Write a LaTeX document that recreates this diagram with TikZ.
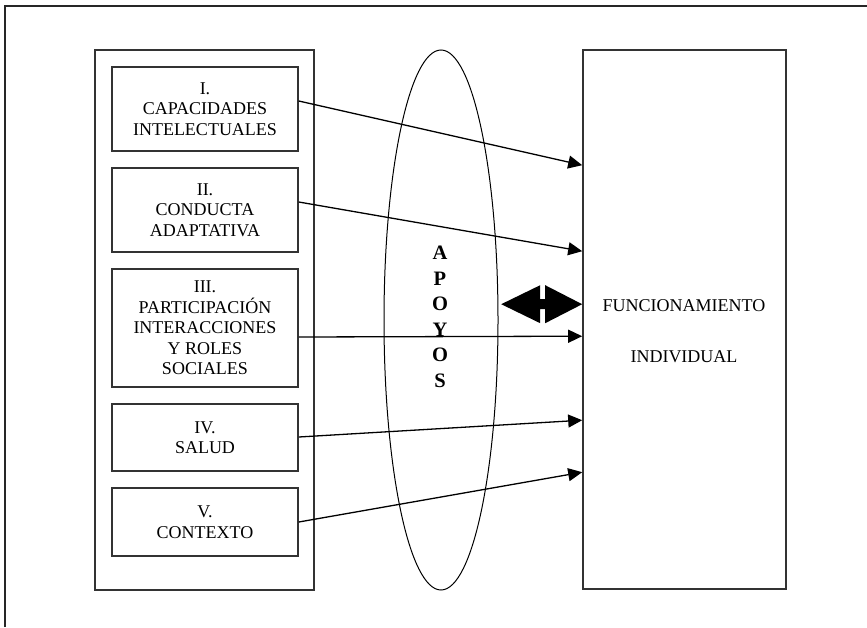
\documentclass[tikz,border=0pt]{standalone}
\usepackage{fontspec}
\setmainfont{Liberation Serif}
\usetikzlibrary{arrows.meta,shapes.geometric,calc}
\tikzset{
  frameline/.style={line width=1.4pt, draw=black!85},
  dimbox/.style={draw=black!80, line width=1.6pt, minimum width=186pt, inner sep=0pt,
    align=center, font=\fontsize{18}{20.5}\selectfont},
  bigbox/.style={draw=black!80, line width=1.6pt, inner sep=0pt},
  link/.style={line width=1.3pt, -{Triangle[length=14pt,width=13pt]}},
}
\begin{document}
\begin{tikzpicture}[x=1pt,y=-1pt]
\useasboundingbox (0,0) rectangle (867,627);
% page frame (top and left edges only)
\draw[frameline] (5,627) -- (5,6) -- (867,6);

% left container with the five dimensions
\node[bigbox, minimum width=219pt, minimum height=540pt] (dims) at (204.5,320) {};
\node[dimbox, minimum height=84pt]  (b1) at (205,109)   {I.\\CAPACIDADES\\INTELECTUALES};
\node[dimbox, minimum height=84pt]  (b2) at (205,210)   {II.\\CONDUCTA\\ADAPTATIVA};
\node[dimbox, minimum height=118pt] (b3) at (205,328)   {III.\\PARTICIPACIÓN\\INTERACCIONES\\Y ROLES\\SOCIALES};
\node[dimbox, minimum height=67pt]  (b4) at (205,437.5) {IV.\\SALUD};
\node[dimbox, minimum height=68pt]  (b5) at (205,522)   {V.\\CONTEXTO};

% supports ellipse
\node[ellipse, draw=black, line width=1pt, minimum width=114pt, minimum height=540pt, inner sep=0pt] (apoyos) at (441,320) {};
\node[font=\fontsize{20.5}{25.5}\selectfont\bfseries, align=center, inner sep=0pt] (apoyostxt) at (440,317) {A\\P\\O\\Y\\O\\S};

% individual functioning box
\node[bigbox, minimum width=203pt, minimum height=539pt] (func) at (684.5,319.5) {};
\node[font=\fontsize{18}{20.5}\selectfont, align=center, inner sep=0pt] (functxt) at (684,331)
  {FUNCIONAMIENTO\\[30pt]INDIVIDUAL};

% arrows from each dimension to functioning
\draw[link] ($(b1.east)+(0,-8)$) -- ($(func.north west)+(0,116)$);
\draw[link] ($(b2.east)+(0,-8)$) -- ($(func.north west)+(0,202)$);
\draw[link] ($(b3.east)+(0,9)$)  -- ($(func.north west)+(0,287)$);
\draw[link] ($(b4.east)+(0,-0.5)$) -- ($(func.north west)+(0,371)$);
\draw[link] (b5.east) -- ($(func.north west)+(0,423)$);

% two-way arrow between supports and functioning
\coordinate (dtip) at ($(func.north west)+(0,255)$);
\fill[black] (dtip) -- ++(-37,-19) -- ++(0,14) -- ++(-5,0) -- ++(0,-14) -- ++(-39,19)
  -- ++(39,19) -- ++(0,-14) -- ++(5,0) -- ++(0,14) -- cycle;
\end{tikzpicture}
\end{document}
